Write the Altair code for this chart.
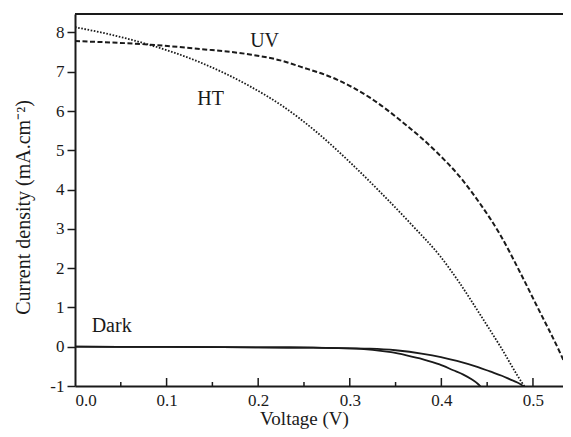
import altair as alt
import pandas as pd

# ---- data ----
uv_v = [0.0, 0.082, 0.1365, 0.191, 0.224, 0.246, 0.286, 0.322, 0.358, 0.395,
        0.4225, 0.442, 0.464, 0.486, 0.504, 0.5295, 0.546]
uv_j = [7.78, 7.69, 7.58, 7.44, 7.29, 7.13, 6.80, 6.34, 5.71, 4.95,
        4.26, 3.65, 2.86, 1.89, 1.05, -0.15, -1.03]

ht_v = [0.0, 0.040, 0.082, 0.1365, 0.191, 0.227, 0.264, 0.300, 0.331, 0.369, 0.3985,
        0.420, 0.442, 0.464, 0.489, 0.492]
ht_j = [8.135, 7.94, 7.68, 7.24, 6.63, 6.12, 5.46, 4.70, 3.99, 3.07, 2.31,
        1.62, 0.83, 0.02, -0.95, -1.05]

dark_a_v = [0.0, 0.1, 0.2, 0.26, 0.30, 0.325, 0.345, 0.362, 0.380, 0.398, 0.413,
            0.424, 0.433, 0.440, 0.443]
dark_a_j = [0.0, -0.005, -0.015, -0.025, -0.04, -0.08, -0.14, -0.22, -0.32, -0.45, -0.60,
            -0.71, -0.83, -0.95, -1.02]

dark_b_v = [0.0, 0.1, 0.2, 0.26, 0.30, 0.322, 0.350, 0.380, 0.417, 0.440, 0.453,
            0.466, 0.475, 0.483, 0.490]
dark_b_j = [0.0, -0.005, -0.015, -0.025, -0.04, -0.05, -0.09, -0.18, -0.36, -0.52, -0.63,
            -0.74, -0.83, -0.91, -1.01]

label_text = ["UV", "HT", "Dark"]
label_v = [0.207, 0.148, 0.040]
label_j = [7.77, 6.30, 0.52]

x_major = [0.1, 0.2, 0.3, 0.4, 0.5]
x_minor = [0.05, 0.15, 0.25, 0.35, 0.45]
x_labels = [0.0, 0.1, 0.2, 0.3, 0.4, 0.5]
y_ticks = [-1, 0, 1, 2, 3, 4, 5, 6, 7, 8]

FONT = "Liberation Serif"
INK = "#1a1a1a"
W, H = 488, 372

xs = alt.Scale(domain=[0, 0.5328], nice=False, zero=False)
ys = alt.Scale(domain=[-1, 8.47], nice=False, zero=False)

x_axis = alt.Axis(values=x_labels, format=".1f", ticks=False, grid=False,
                  domain=True, domainColor=INK, domainWidth=2,
                  labelFont=FONT, labelFontSize=17, labelColor=INK, labelPadding=6,
                  title="Voltage (V)", titleFont=FONT, titleFontSize=19,
                  titleFontWeight="normal", titleColor=INK,
                  titleX=229, titleY=38, titleBaseline="alphabetic")
y_axis = alt.Axis(values=y_ticks, labelExpr="'' + datum.value", tickSize=8, tickWidth=1.5,
                  tickColor=INK, grid=False, domain=True, domainColor=INK, domainWidth=2,
                  labelFont=FONT, labelFontSize=17, labelColor=INK, labelPadding=3,
                  title="Current density (mA.cm\u207b\u00b2)", titleFont=FONT,
                  titleFontSize=20, titleFontWeight="normal", titleColor=INK,
                  titleX=-42, titleY=193, titleBaseline="bottom")

X = alt.X("V:Q", scale=xs, axis=x_axis)
Y = alt.Y("J:Q", scale=ys, axis=y_axis)


def line_layer(v, j, dash, width):
    df = pd.DataFrame({"V": v, "J": j, "i": range(len(v))})
    kw = dict(color=INK, strokeWidth=width, clip=True, interpolate="monotone")
    if dash:
        kw["strokeDash"] = dash
    return alt.Chart(df).mark_line(**kw).encode(x=X, y=Y, order="i:Q")


uv = line_layer(uv_v, uv_j, [5, 2.5], 2.0)
ht = line_layer(ht_v, ht_j, [1.6, 1.6], 1.8)
da = line_layer(dark_a_v, dark_a_j, None, 1.8)
db = line_layer(dark_b_v, dark_b_j, None, 1.8)

labels = alt.Chart(pd.DataFrame({"t": label_text, "V": label_v, "J": label_j})).mark_text(
    font=FONT, fontSize=20, color=INK, align="center", baseline="middle"
).encode(x=X, y=Y, text="t:N")

major = alt.Chart(pd.DataFrame({"V": x_major})).mark_rule(color=INK, strokeWidth=1.5).encode(
    x=X, y=alt.value(H), y2=alt.value(H - 8))
minor = alt.Chart(pd.DataFrame({"V": x_minor})).mark_rule(color=INK, strokeWidth=1.5).encode(
    x=X, y=alt.value(H), y2=alt.value(H - 4))
top = alt.Chart(pd.DataFrame({"V": [0.0]})).mark_rule(color=INK, strokeWidth=2).encode(
    x=alt.value(0), x2=alt.value(W), y=alt.value(0))

chart = alt.layer(uv, ht, da, db, labels, major, minor, top).properties(
    width=W, height=H,
    background="white",
    autosize=alt.AutoSizeParams(type="none"),
    padding={"left": 67, "top": 6, "right": 0, "bottom": 43},
).configure_view(stroke=None)

chart.save("out.html", embed_options={"renderer": "svg", "actions": False})
